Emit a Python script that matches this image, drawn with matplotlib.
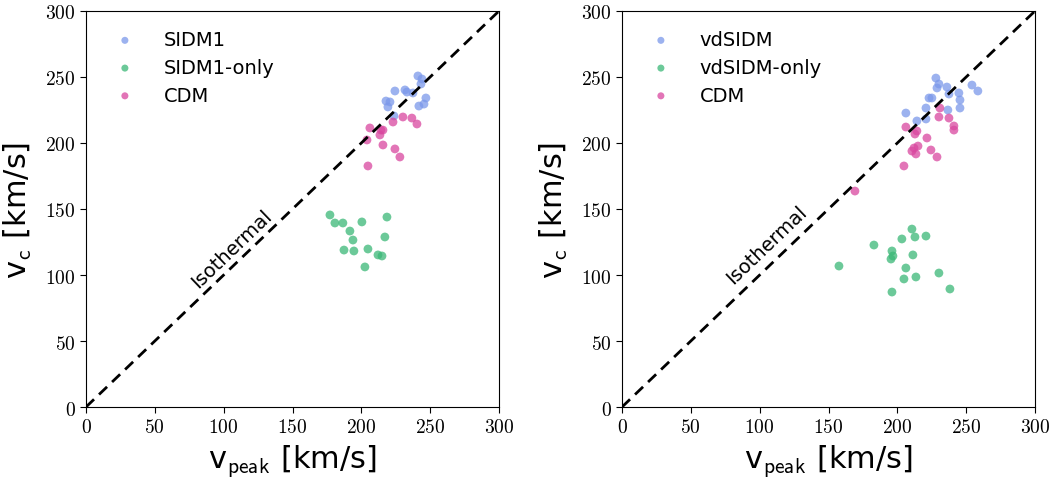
import matplotlib
matplotlib.use("Agg")
import matplotlib.pyplot as plt
from matplotlib.ticker import FuncFormatter

plt.rcParams['mathtext.fontset'] = 'cm'
plt.rcParams['font.family'] = ['DejaVu Sans']

# Left panel data
sidm1_vpeak = [241.1, 244, 243.3, 224.4, 231.7, 233.1, 237.5, 217.9, 220.8, 219.3, 246.9, 245.5, 241.8, 223.7]
sidm1_vc = [250.8, 248.5, 244.7, 239.4, 240.2, 238.6, 237.9, 231.8, 231.1, 227.3, 234.1, 229.5, 228.0, 220.5]
sidm1only_vpeak = [177.2, 180.8, 186.6, 191.7, 200.4, 218.6, 193.9, 187.4, 194.6, 204.8, 217.1, 212.1, 215.0, 202.6]
sidm1only_vc = [145.5, 139.4, 139.4, 133.3, 140.2, 143.9, 126.5, 118.9, 118.2, 119.7, 128.8, 115.2, 114.4, 106.1]
cdm_l_vpeak = [236.7, 230.2, 240.4, 223.0, 206.2, 214.2, 215.7, 213.5, 204.1, 215.7, 224.4, 228.0, 204.8]
cdm_l_vc = [218.9, 219.7, 214.4, 215.9, 211.4, 209.8, 209.8, 206.1, 202.3, 198.5, 195.5, 189.4, 182.6]

# Right panel data
vdsidm_vpeak = [228, 230.2, 228.8, 236, 237.5, 244.7, 254.2, 258.5, 245.5, 223, 225.1, 245.5, 220.8, 236.7, 206.2, 214.2, 220.8]
vdsidm_vc = [249.2, 244.7, 241.7, 242.4, 237.1, 237.9, 243.9, 239.4, 232.6, 234.1, 234.1, 226.5, 226.5, 225.0, 222.7, 216.7, 218.2]
vdsidmonly_vpeak = [210.6, 203.3, 212.8, 220.8, 183.0, 196.1, 196.8, 195.4, 211.3, 157.6, 206.2, 230.2, 204.8, 213.5, 238.2, 196.1]
vdsidmonly_vc = [134.8, 127.3, 128.8, 129.5, 122.7, 118.2, 114.4, 112.1, 115.2, 106.8, 105.3, 101.5, 97.0, 98.5, 89.4, 87.1]
cdm_r_vpeak = [230.9, 230.2, 237.5, 241.1, 241.1, 206.2, 214.2, 212.8, 221.5, 215.0, 212.1, 210.6, 213.5, 224.4, 228.8, 204.8, 169.2]
cdm_r_vc = [226.5, 219.7, 218.9, 212.9, 209.8, 212.1, 209.1, 206.8, 203.8, 197.7, 196.2, 193.9, 191.7, 194.7, 189.4, 182.6, 163.6]

ticks = [0, 50, 100, 150, 200, 250, 300]

c_blue = '#7b98ea'
c_green = '#3bb877'
c_pink = '#d9479f'

fig = plt.figure(figsize=(10.55, 4.81), dpi=100)
ax1 = fig.add_axes([86/1055, 1-408/481, 413/1055, 396/481])
ax2 = fig.add_axes([622/1055, 1-408/481, 413/1055, 396/481])

panels = [
    (ax1, [(sidm1_vpeak, sidm1_vc, c_blue, 'SIDM1'),
           (sidm1only_vpeak, sidm1only_vc, c_green, 'SIDM1-only'),
           (cdm_l_vpeak, cdm_l_vc, c_pink, 'CDM')], (106, 120)),
    (ax2, [(vdsidm_vpeak, vdsidm_vc, c_blue, 'vdSIDM'),
           (vdsidmonly_vpeak, vdsidmonly_vc, c_green, 'vdSIDM-only'),
           (cdm_r_vpeak, cdm_r_vc, c_pink, 'CDM')], (105, 123)),
]

for ax, series, txtpos in panels:
    for x, y, c, lab in series:
        ax.scatter(x, y, s=40, color=c, alpha=0.75, edgecolors='none', label=lab)
    ax.plot([0, 300], [0, 300], color='black', ls='--', lw=2, dashes=(4, 2.5))
    ax.set_xlim(0, 300)
    ax.set_ylim(0, 300)
    ax.set_xticks(ticks)
    ax.set_yticks(ticks)
    fmt = FuncFormatter(lambda v, p: r'$%d$' % v)
    ax.xaxis.set_major_formatter(fmt)
    ax.yaxis.set_major_formatter(fmt)
    ax.tick_params(labelsize=14, direction='out', length=4)
    ax.set_xlabel(r'v$_{\mathsf{peak}}$ [km/s]', fontsize=22, labelpad=4)
    ax.set_ylabel(r'v$_{\mathsf{c}}$ [km/s]', fontsize=22, labelpad=8)
    ax.text(txtpos[0], txtpos[1], 'Isothermal', rotation=43.8, ha='center', va='center',
            fontsize=14, rotation_mode='anchor')
    leg = ax.legend(loc='upper left', frameon=False, fontsize=14, markerscale=0.8,
                    handletextpad=1.0, borderaxespad=0.6, bbox_to_anchor=(0.0, 1.0),
                    labelspacing=0.45)
    for h in leg.legend_handles:
        h.set_alpha(0.75)

fig.savefig('out.png', dpi=100)
